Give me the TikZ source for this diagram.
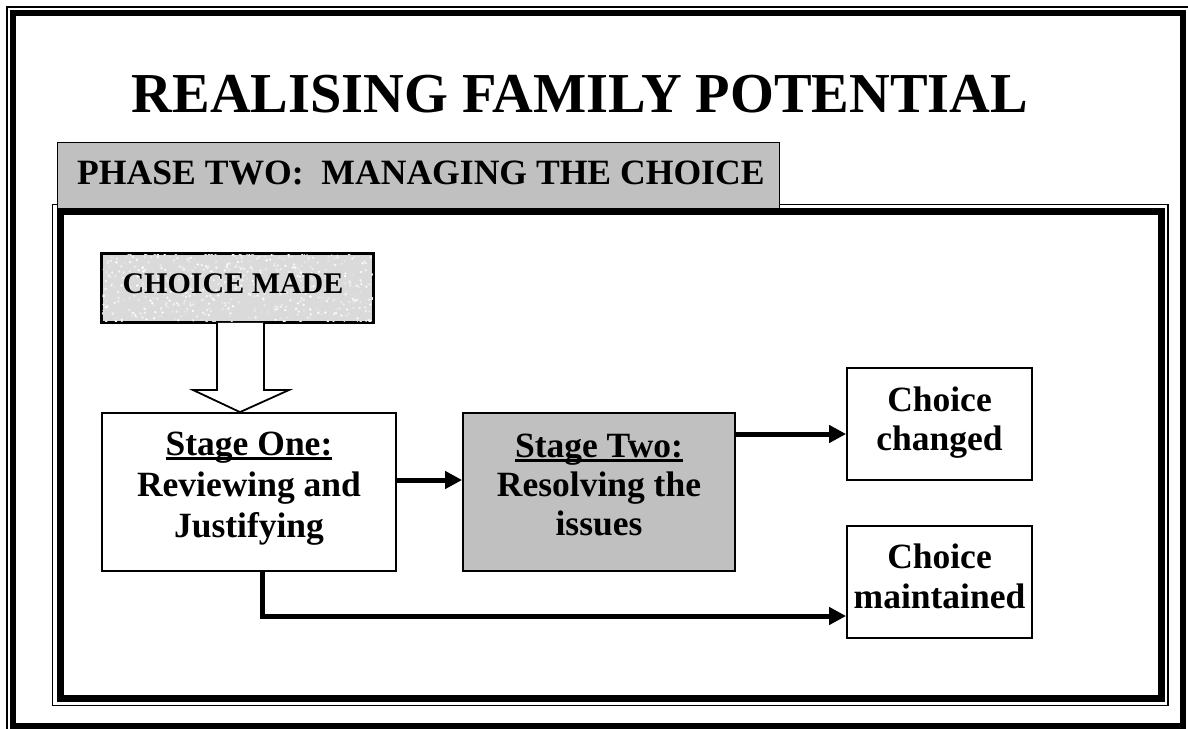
\documentclass[tikz,border=0pt]{standalone}
\usepackage{fontspec}
\setmainfont{Liberation Serif}
\usetikzlibrary{arrows.meta}
\newsavebox{\ulnbox}
\newcommand{\uln}[1]{\sbox{\ulnbox}{#1}\rlap{\rule[-4.5pt]{\wd\ulnbox}{2.4pt}}\usebox{\ulnbox}}
\definecolor{tabgray}{RGB}{192,192,192}
\definecolor{mottle}{RGB}{218,218,218}
\tikzset{
  box/.style={draw=black, line width=1.8pt, fill=white, inner sep=0pt},
  boxtext/.style={inner sep=0pt, align=center, font=\fontsize{35.5}{40}\selectfont\bfseries},
  arr/.style={line width=5pt, -{Triangle[length=17pt,width=17pt]}},
  thinframe/.style={draw=black, line width=1.3pt},
}
\begin{document}
\begin{tikzpicture}[x=1pt, y=-1pt]
\useasboundingbox (0,0) rectangle (1188,728);
\clip (0,0) rectangle (1188,728);
% outer frame
\draw[thinframe] (7,7) rectangle (1194,735);
\draw[line width=6pt] (13,13) rectangle (1182.5,725.5);
% inner frame
\draw[thinframe] (52.5,204.5) rectangle (1168,705.5);
\draw[line width=7pt] (60,211.5) rectangle (1161.5,698.5);
% title
\node[anchor=base, font=\fontsize{56.4}{60}\selectfont\bfseries, inner sep=0pt] (title) at (580,112) {REALISING FAMILY POTENTIAL};
% tab
\node[draw=black, line width=1.2pt, fill=tabgray, minimum width=722pt, minimum height=66pt, inner sep=0pt, anchor=north west] (tab) at (57,142) {};
\node[anchor=base west, font=\fontsize{35.6}{40}\selectfont\bfseries, inner sep=0pt] (tabtext) at (77,184) {PHASE TWO:\ \ MANAGING THE CHOICE};
% choice made box with mottled fill
\node[box, fill=mottle, minimum width=271pt, minimum height=68pt] (made) at (237.5,288) {};
\begin{scope}
  \clip (made.south west) rectangle (made.north east);
  \pgfmathsetseed{11}
  \foreach \i in {1,...,700}{
    \pgfmathsetmacro{\px}{102+271*rnd}
    \pgfmathsetmacro{\py}{254+68*rnd}
    \pgfmathsetmacro{\pc}{55+45*rnd}
    \fill[white!\pc!gray!70] (\px,\py) circle (1.3pt);
  }
\end{scope}
\draw[line width=1.8pt] (made.south west) rectangle (made.north east);
\node[anchor=base, font=\fontsize{30}{36}\selectfont\bfseries, inner sep=0pt] (madetext) at (233,293) {CHOICE MADE};
% stage boxes
\node[box, minimum width=294pt, minimum height=158pt] (s1) at (249,492) {};
\node[boxtext, anchor=base, font=\fontsize{35.5}{41}\selectfont\bfseries] (s1t) at (249,537) {\uln{Stage One:}\\Reviewing and\\Justifying};
\node[box, fill=tabgray, minimum width=272pt, minimum height=158pt] (s2) at (599,492) {};
\node[boxtext, anchor=base, font=\fontsize{35.5}{39}\selectfont\bfseries] (s2t) at (599,535) {\uln{Stage Two:}\\Resolving the\\issues};
\node[box, minimum width=185pt, minimum height=112pt] (cc) at (939.5,424) {};
\node[boxtext, anchor=base, font=\fontsize{35.5}{38.5}\selectfont\bfseries] (cct) at (939.5,450) {Choice\\changed};
\node[box, minimum width=185pt, minimum height=112pt] (cm) at (939.5,582) {};
\node[boxtext, anchor=base] (cmt) at (939.5,608) {Choice\\maintained};
% block arrow
\draw[line width=1.8pt, fill=white] (made.south -| 217,0) -- (217,390) -- (193,390) -- (s1.north -| 240,0) -- (289,390) -- (264,390) -- (made.south -| 264,0);
% connectors
\draw[arr] (s1.east |- 0,480) -- (s2.west |- 0,480);
\draw[arr] (s2.east |- 0,434) -- (cc.west |- 0,434);
\draw[arr] (s1.south -| 262,0) |- (cm.west |- 0,616);
\end{tikzpicture}
\end{document}
